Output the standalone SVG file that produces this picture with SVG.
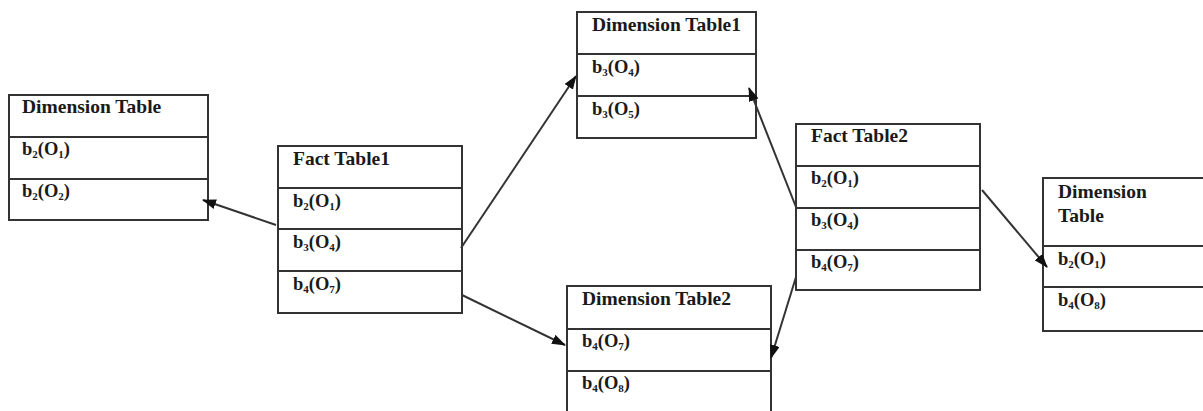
<svg xmlns="http://www.w3.org/2000/svg" width="1203" height="411" viewBox="0 0 1203 411">
  <style>
    .box { fill: #ffffff; stroke: #333333; stroke-width: 2; }
    .div { stroke: #333333; stroke-width: 2; }
    .hdr { font-family: "Liberation Serif", "Times New Roman", serif; font-weight: bold; font-size: 19.5px; fill: #1a1a1a; }
    .row { font-family: "Liberation Serif", "Times New Roman", serif; font-weight: bold; font-size: 18.5px; fill: #1a1a1a; }
    .sub { font-size: 11px; }
    .link { stroke: #333333; stroke-width: 2; fill: none; marker-end: url(#head); }
  </style>
  <defs>
    <marker id="head" viewBox="0 0 14 10" refX="13" refY="5" markerWidth="14" markerHeight="10" markerUnits="userSpaceOnUse" orient="auto">
      <path d="M0,0 L14,5 L0,10 Z" fill="#111111"/>
    </marker>
  </defs>
  <rect width="1203" height="411" fill="#ffffff"/>

  <!-- Dimension Table (left) -->
  <g id="dim-left">
    <rect class="box" x="9" y="95" width="199" height="125"/>
    <line class="div" x1="9" y1="137" x2="208" y2="137"/>
    <line class="div" x1="9" y1="179" x2="208" y2="179"/>
    <text class="hdr" x="22" y="113">Dimension Table</text>
    <text class="row" x="22" y="155">b<tspan class="sub" dy="3">2</tspan><tspan dy="-3">(O</tspan><tspan class="sub" dy="3">1</tspan><tspan dy="-3">)</tspan></text>
    <text class="row" x="22" y="197">b<tspan class="sub" dy="3">2</tspan><tspan dy="-3">(O</tspan><tspan class="sub" dy="3">2</tspan><tspan dy="-3">)</tspan></text>
  </g>

  <!-- Fact Table1 -->
  <g id="fact1">
    <rect class="box" x="278" y="146" width="184" height="167"/>
    <line class="div" x1="278" y1="188" x2="462" y2="188"/>
    <line class="div" x1="278" y1="229" x2="462" y2="229"/>
    <line class="div" x1="278" y1="271" x2="462" y2="271"/>
    <text class="hdr" x="293" y="165">Fact Table1</text>
    <text class="row" x="293" y="207">b<tspan class="sub" dy="3">2</tspan><tspan dy="-3">(O</tspan><tspan class="sub" dy="3">1</tspan><tspan dy="-3">)</tspan></text>
    <text class="row" x="293" y="248">b<tspan class="sub" dy="3">3</tspan><tspan dy="-3">(O</tspan><tspan class="sub" dy="3">4</tspan><tspan dy="-3">)</tspan></text>
    <text class="row" x="293" y="290">b<tspan class="sub" dy="3">4</tspan><tspan dy="-3">(O</tspan><tspan class="sub" dy="3">7</tspan><tspan dy="-3">)</tspan></text>
  </g>

  <!-- Dimension Table1 -->
  <g id="dim1">
    <rect class="box" x="577" y="12" width="179" height="126"/>
    <line class="div" x1="577" y1="54" x2="756" y2="54"/>
    <line class="div" x1="577" y1="96" x2="756" y2="96"/>
    <text class="hdr" x="592" y="31">Dimension Table1</text>
    <text class="row" x="592" y="73">b<tspan class="sub" dy="3">3</tspan><tspan dy="-3">(O</tspan><tspan class="sub" dy="3">4</tspan><tspan dy="-3">)</tspan></text>
    <text class="row" x="592" y="115">b<tspan class="sub" dy="3">3</tspan><tspan dy="-3">(O</tspan><tspan class="sub" dy="3">5</tspan><tspan dy="-3">)</tspan></text>
  </g>

  <!-- Dimension Table2 -->
  <g id="dim2">
    <rect class="box" x="567" y="286" width="204" height="130"/>
    <line class="div" x1="567" y1="329" x2="771" y2="329"/>
    <line class="div" x1="567" y1="371" x2="771" y2="371"/>
    <text class="hdr" x="582" y="305">Dimension Table2</text>
    <text class="row" x="582" y="347">b<tspan class="sub" dy="3">4</tspan><tspan dy="-3">(O</tspan><tspan class="sub" dy="3">7</tspan><tspan dy="-3">)</tspan></text>
    <text class="row" x="582" y="389">b<tspan class="sub" dy="3">4</tspan><tspan dy="-3">(O</tspan><tspan class="sub" dy="3">8</tspan><tspan dy="-3">)</tspan></text>
  </g>

  <!-- Fact Table2 -->
  <g id="fact2">
    <rect class="box" x="796" y="124" width="184" height="166"/>
    <line class="div" x1="796" y1="166" x2="980" y2="166"/>
    <line class="div" x1="796" y1="208" x2="980" y2="208"/>
    <line class="div" x1="796" y1="250" x2="980" y2="250"/>
    <text class="hdr" x="811" y="142">Fact Table2</text>
    <text class="row" x="811" y="184">b<tspan class="sub" dy="3">2</tspan><tspan dy="-3">(O</tspan><tspan class="sub" dy="3">1</tspan><tspan dy="-3">)</tspan></text>
    <text class="row" x="811" y="226">b<tspan class="sub" dy="3">3</tspan><tspan dy="-3">(O</tspan><tspan class="sub" dy="3">4</tspan><tspan dy="-3">)</tspan></text>
    <text class="row" x="811" y="268">b<tspan class="sub" dy="3">4</tspan><tspan dy="-3">(O</tspan><tspan class="sub" dy="3">7</tspan><tspan dy="-3">)</tspan></text>
  </g>

  <!-- Dimension Table (right) -->
  <g id="dim-right">
    <rect class="box" x="1043" y="178" width="170" height="153"/>
    <line class="div" x1="1043" y1="246" x2="1213" y2="246"/>
    <line class="div" x1="1043" y1="287" x2="1213" y2="287"/>
    <text class="hdr" x="1058" y="198">Dimension</text>
    <text class="hdr" x="1058" y="222">Table</text>
    <text class="row" x="1058" y="265">b<tspan class="sub" dy="3">2</tspan><tspan dy="-3">(O</tspan><tspan class="sub" dy="3">1</tspan><tspan dy="-3">)</tspan></text>
    <text class="row" x="1058" y="306">b<tspan class="sub" dy="3">4</tspan><tspan dy="-3">(O</tspan><tspan class="sub" dy="3">8</tspan><tspan dy="-3">)</tspan></text>
  </g>

  <!-- Connectors -->
  <g id="connectors">
    <line class="link" x1="276" y1="225" x2="203" y2="200"/>
    <line class="link" x1="461" y1="248" x2="576" y2="76"/>
    <line class="link" x1="462" y1="295" x2="565" y2="345"/>
    <line class="link" x1="796" y1="207" x2="749" y2="88"/>
    <line class="link" x1="796" y1="277" x2="771" y2="358"/>
    <line class="link" x1="982" y1="190" x2="1047" y2="267"/>
  </g>
</svg>
